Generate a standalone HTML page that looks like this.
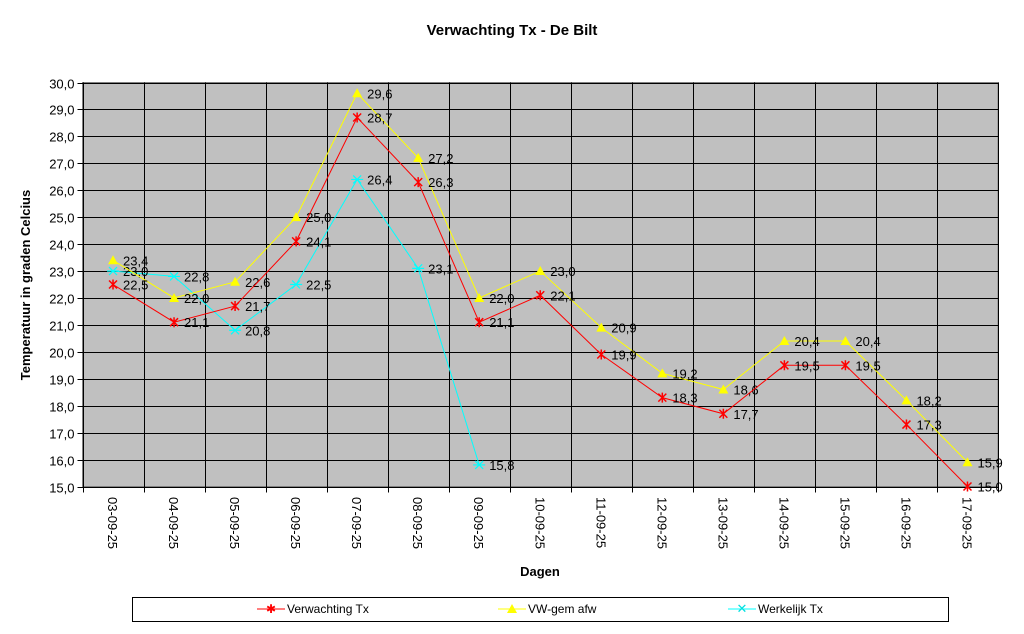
<!DOCTYPE html>
<html><head><meta charset="utf-8"><style>
body{margin:0;background:#fff;font-family:"Liberation Sans",Arial,sans-serif}
</style></head><body>
<svg width="1024" height="629" xmlns="http://www.w3.org/2000/svg" font-family="Liberation Sans, Arial, sans-serif">
<text x="512" y="35" text-anchor="middle" font-size="15" font-weight="bold">Verwachting Tx - De Bilt</text>
<rect x="82.5" y="82.5" width="915.5" height="404" fill="#c0c0c0" stroke="#808080"/>
<g id="grid"></g><g id="series"></g><g id="axes"></g>
<text transform="translate(30,285) rotate(-90)" text-anchor="middle" font-size="13" font-weight="bold">Temperatuur in graden Celcius</text>
<text x="540" y="576" text-anchor="middle" font-size="13" font-weight="bold">Dagen</text>
<rect x="132.5" y="597.5" width="816" height="24" fill="#fff" stroke="#000"/>
<g><line x1="257" y1="609" x2="285" y2="609" stroke="#ff0000"/><text x="271" y="613" text-anchor="middle" fill="#ff0000" font-size="12">✱</text><text x="287" y="613" font-size="12">Verwachting Tx</text></g>
<g><line x1="498" y1="609" x2="526" y2="609" stroke="#ffff00"/><polygon points="512,604 517,613 507,613" fill="#ffff00"/><text x="528" y="613" font-size="12">VW-gem afw</text></g>
<g><line x1="728" y1="609" x2="756" y2="609" stroke="#00ffff"/><text x="742" y="613" text-anchor="middle" fill="#00e0e0" font-size="13">✕</text><text x="758" y="613" font-size="12">Werkelijk Tx</text></g>
</svg>
<script>
const categories=["03-09-25","04-09-25","05-09-25","06-09-25","07-09-25","08-09-25","09-09-25","10-09-25","11-09-25","12-09-25","13-09-25","14-09-25","15-09-25","16-09-25","17-09-25"];
const verwachting=[22.5,21.1,21.7,24.1,28.7,26.3,21.1,22.1,19.9,18.3,17.7,19.5,19.5,17.3,15.0];
const vwGem=[23.4,22.0,22.6,25.0,29.6,27.2,22.0,23.0,20.9,19.2,18.6,20.4,20.4,18.2,15.9];
const werkelijk=[23.0,22.8,20.8,22.5,26.4,23.1,15.8];
const yTicks=[15,16,17,18,19,20,21,22,23,24,25,26,27,28,29,30];
const NS="http://www.w3.org/2000/svg";
const L=82.5,T=82.5,W=915.5,H=404,ymin=15,ymax=30;
const cw=W/categories.length;
const xs=i=>L+cw*(i+0.5);
const ys=v=>T+H*(ymax-v)/(ymax-ymin);
function mk(tag,at,parent,txt){const e=document.createElementNS(NS,tag);for(const k in at)e.setAttribute(k,at[k]);if(txt!==undefined)e.textContent=txt;parent.appendChild(e);return e;}
const grid=document.getElementById('grid'),axes=document.getElementById('axes'),ser=document.getElementById('series');
yTicks.forEach(v=>{const y=Math.round(ys(v))+0.5;
 const g=mk('line',{x1:L-5,x2:L+W,y1:y,y2:y,stroke:'#000','stroke-width':1},grid);
 
 
 const t=mk('text',{x:L-8,y:y+5,'text-anchor':'end','font-size':13},axes,v.toFixed(1).replace('.',','));
 
 
});
for(let i=0;i<=categories.length;i++){const x=Math.round(L+cw*i)+0.5;
 const g=mk('line',{x1:x,x2:x,y1:T,y2:T+H+6,stroke:'#000'},grid);
 
 
}
categories.forEach((c,i)=>{const t=mk('text',{transform:`translate(${xs(i)-5},497) rotate(90)`,'font-size':13},axes,c);
 
 
});
function series(vals,color,name,marker,lblColor){
 const g=mk('g',{},ser);
 
 
 mk('polyline',{points:vals.map((v,i)=>xs(i)+','+ys(v)).join(' '),fill:'none',stroke:color,'stroke-width':1},g);
 vals.forEach((v,i)=>{const x=xs(i),y=ys(v);
  let m;
  if(marker==='tri')m=mk('polygon',{points:`${x},${y-5} ${x+5},${y+4} ${x-5},${y+4}`,fill:color},g);
  else if(marker==='star')m=mk('path',{d:`M${x-4},${y-4}L${x+4},${y+4}M${x-4},${y+4}L${x+4},${y-4}M${x},${y-5}L${x},${y+5}`,stroke:color,'stroke-width':1.5},g);
  else m=mk('path',{d:`M${x-4},${y-4}L${x+4},${y+4}M${x-4},${y+4}L${x+4},${y-4}M${x-6},${y}L${x+6},${y}`,stroke:color,'stroke-width':1.2},g);
  
  
  const t=mk('text',{x:x+10,y:y+5,'font-size':13,fill:'#000'},g,v.toFixed(1).replace('.',','));
  
  
 });
}
series(werkelijk,'#00ffff','werkelijk-tx-series','x');
series(vwGem,'#ffff00','vw-gem-afw-series','tri');
series(verwachting,'#ff0000','verwachting-tx-series','star');
</script>
</body></html>
